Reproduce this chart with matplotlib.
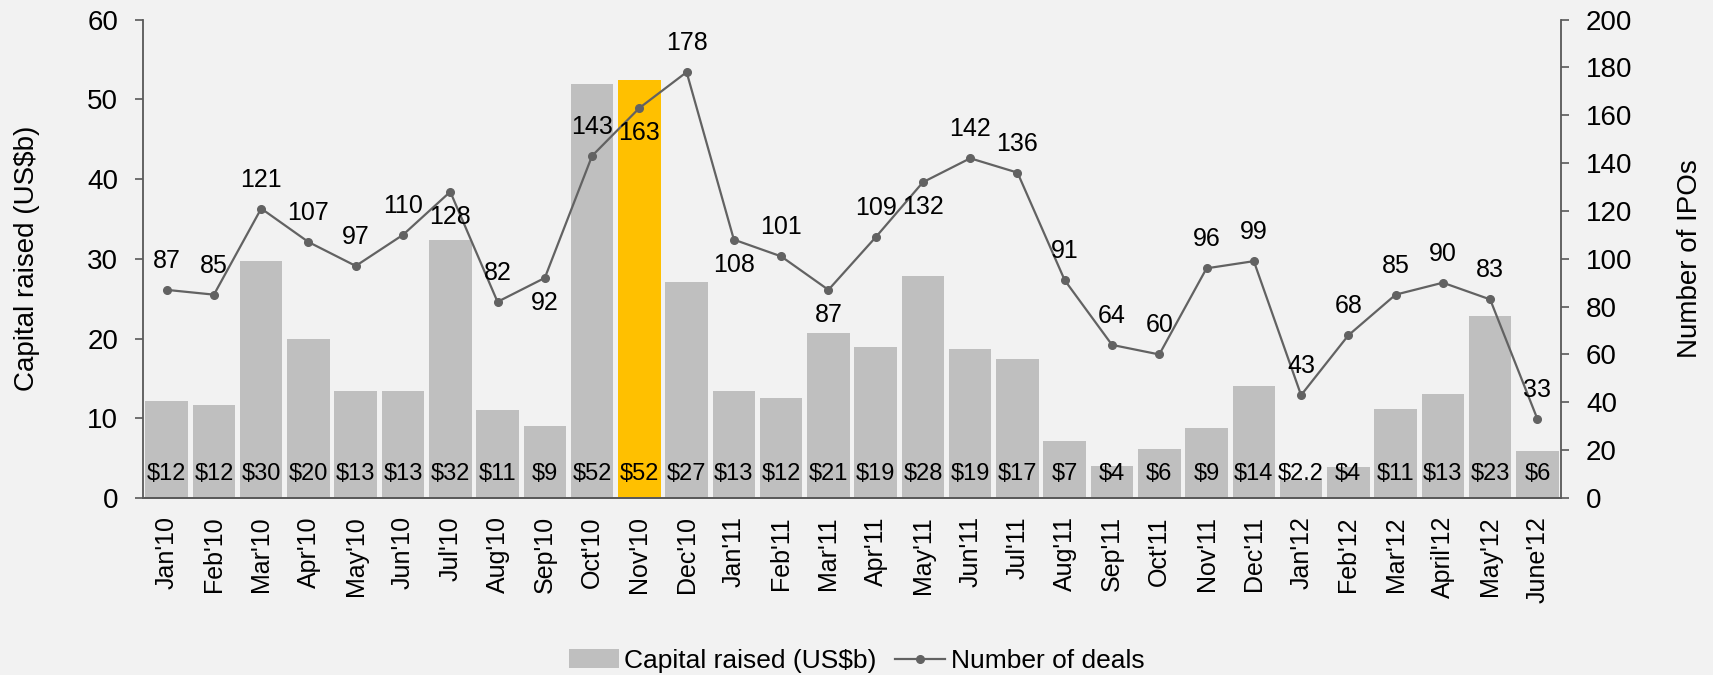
import matplotlib
matplotlib.use('Agg')
from matplotlib import pyplot as plt

months = ["Jan'10", "Feb'10", "Mar'10", "Apr'10", "May'10", "Jun'10", "Jul'10", "Aug'10",
          "Sep'10", "Oct'10", "Nov'10", "Dec'10", "Jan'11", "Feb'11", "Mar'11", "Apr'11",
          "May'11", "Jun'11", "Jul'11", "Aug'11", "Sep'11", "Oct'11", "Nov'11", "Dec'11",
          "Jan'12", "Feb'12", "Mar'12", "April'12", "May'12", "June'12"]
capital = [12.2, 11.7, 29.7, 20.0, 13.4, 13.4, 32.4, 11.0, 9.0, 51.9, 52.4, 27.1, 13.4, 12.5,
           20.7, 18.9, 27.9, 18.7, 17.4, 7.1, 4.05, 6.2, 8.8, 14.0, 2.2, 3.9, 11.2, 13.0, 22.8, 5.9]
capital_labels = ['$12', '$12', '$30', '$20', '$13', '$13', '$32', '$11', '$9', '$52', '$52',
                  '$27', '$13', '$12', '$21', '$19', '$28', '$19', '$17', '$7', '$4', '$6',
                  '$9', '$14', '$2.2', '$4', '$11', '$13', '$23', '$6']
deals = [87, 85, 121, 107, 97, 110, 128, 82, 92, 143, 163, 178, 108, 101, 87, 109, 132, 142,
         136, 91, 64, 60, 96, 99, 43, 68, 85, 90, 83, 33]
# label placement: 'a' above the point, 'b' below
deal_label_pos = ['a', 'a', 'a', 'a', 'a', 'a', 'b', 'a', 'b', 'a', 'b', 'a', 'b', 'a', 'b',
                  'a', 'b', 'a', 'a', 'a', 'a', 'a', 'a', 'a', 'a', 'a', 'a', 'a', 'a', 'a']
highlight = "Nov'10"

bg = '#F2F2F2'
bar_grey = '#BFBFBF'
gold = '#FFC000'
line_col = '#626262'
spine_col = '#595959'

plt.rcParams['font.family'] = ['Liberation Sans', 'DejaVu Sans']

fig = plt.figure(figsize=(17.13, 6.75), dpi=100, facecolor=bg)
ax = fig.add_axes([0.0835, 0.2622, 0.8278, 0.7089], facecolor=bg)
ax2 = ax.twinx()

x = list(range(len(months)))
colors = [gold if m == highlight else bar_grey for m in months]
bars = ax.bar(x, capital, width=0.9, color=colors, label='Capital raised (US$b)', zorder=2)

for i, bar in enumerate(bars):
    ax.annotate(capital_labels[i], xy=(bar.get_x() + bar.get_width() / 2, 0),
                xytext=(0, 24), textcoords='offset pixels', ha='center', va='center',
                fontsize=17, color='#000000', zorder=5)

ax.set_xlim(-0.5, len(months) - 0.5)
ax.set_ylim(0, 60)
ax.set_yticks(range(0, 61, 10))
ax.set_xticks(x)
ax.set_xticklabels(months, rotation=90, fontsize=18)
ax.tick_params(axis='x', length=0, pad=13)
ax.tick_params(axis='y', length=6, width=1.2, color=spine_col, labelsize=20, pad=12)
ax.set_ylabel('Capital raised (US$b)', fontsize=20, labelpad=34)

ax2.plot(x, deals, color=line_col, lw=1.6, marker='o', markersize=5.5, label='Number of deals', zorder=3)
ax2.set_ylim(0, 200)
ax2.set_yticks(range(0, 201, 20))
ax2.tick_params(axis='y', length=6, width=1.2, color=spine_col, labelsize=20, pad=12)
ax2.set_ylabel('Number of IPOs', fontsize=20, labelpad=32)

for i, v in enumerate(deals):
    dy = 29 if deal_label_pos[i] == 'a' else -25
    ax2.annotate(str(v), xy=(i, v), xytext=(0, dy), textcoords='offset pixels',
                 ha='center', va='center', fontsize=18)

for a in (ax, ax2):
    a.spines['top'].set_visible(False)
    for s in ('left', 'right', 'bottom'):
        a.spines[s].set_color(spine_col)
        a.spines[s].set_linewidth(1.3)
ax.spines['right'].set_visible(False)
ax2.spines['left'].set_visible(False)

h1, l1 = ax.get_legend_handles_labels()
h2, l2 = ax2.get_legend_handles_labels()
fig.legend(h1 + h2, l1 + l2, loc='center', bbox_to_anchor=(0.5, 0.021), ncol=2,
           frameon=False, fontsize=19, handlelength=1.9, handletextpad=0.2,
           columnspacing=0.7)

fig.savefig('out.png', dpi=100, facecolor=bg)
